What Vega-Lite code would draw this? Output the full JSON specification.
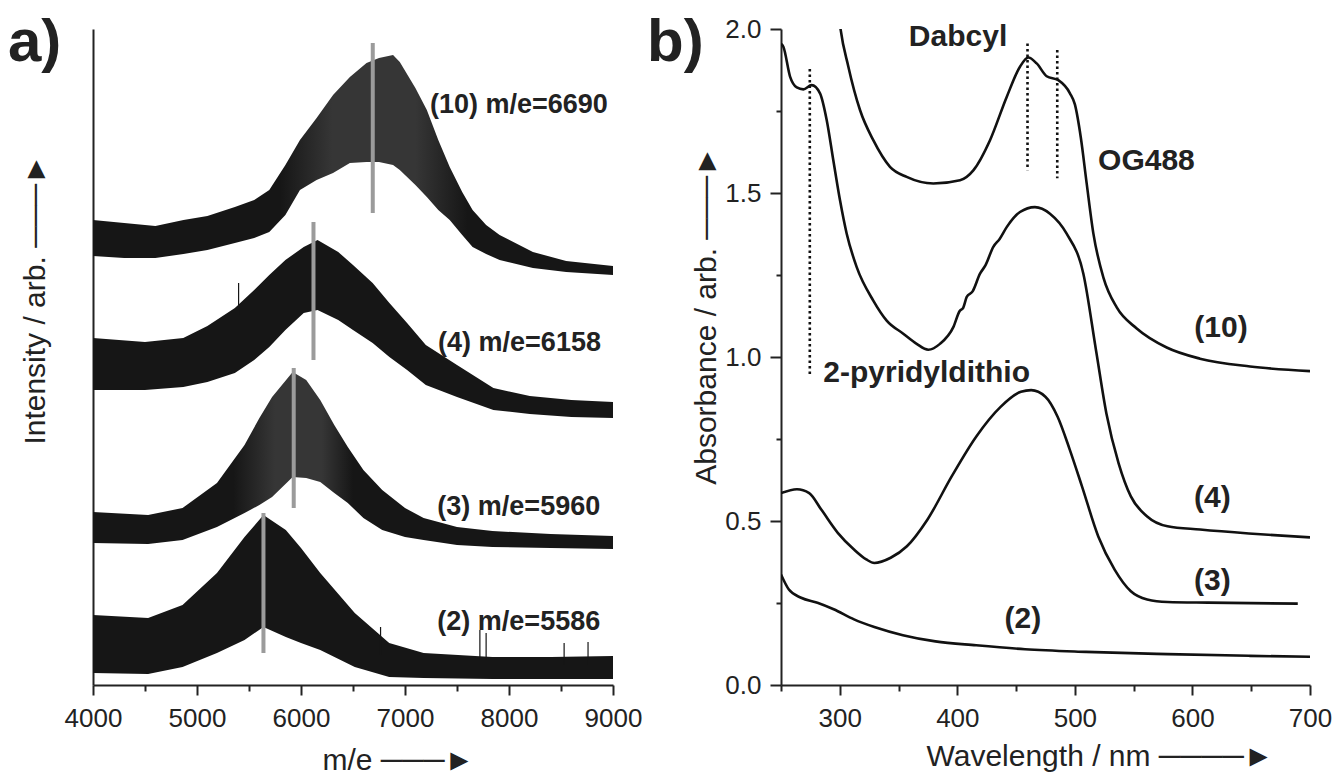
{
  "$schema": "https://vega.github.io/schema/vega-lite/v6.json",
  "background": "white",
  "padding": {"left": 8, "top": 13, "right": 0, "bottom": 0},
  "bounds": "flush",
  "spacing": 168,
  "config": {
    "view": {"stroke": null},
    "font": "Liberation Sans",
    "axis": {
      "grid": false,
      "domainColor": "#222",
      "domainWidth": 2,
      "tickColor": "#222",
      "tickWidth": 2,
      "labelColor": "#222",
      "labelFont": "Liberation Sans",
      "labelFontSize": 26,
      "labelFlush": false,
      "labelOverlap": false,
      "titleFont": "Liberation Sans",
      "titleFontSize": 30,
      "titleFontWeight": "normal",
      "titleColor": "#222"
    }
  },
  "datasets": {
    "ms": [
      {"trace": "10", "mz": 4000, "intensity": 465, "intensity2": 429},
      {"trace": "10", "mz": 4300, "intensity": 462, "intensity2": 427},
      {"trace": "10", "mz": 4600, "intensity": 459, "intensity2": 427},
      {"trace": "10", "mz": 4870, "intensity": 465, "intensity2": 431},
      {"trace": "10", "mz": 5100, "intensity": 469, "intensity2": 435},
      {"trace": "10", "mz": 5364, "intensity": 478, "intensity2": 442},
      {"trace": "10", "mz": 5550, "intensity": 485, "intensity2": 447},
      {"trace": "10", "mz": 5695, "intensity": 495, "intensity2": 453},
      {"trace": "10", "mz": 5850, "intensity": 520, "intensity2": 470},
      {"trace": "10", "mz": 5990, "intensity": 545, "intensity2": 495},
      {"trace": "10", "mz": 6150, "intensity": 567, "intensity2": 505},
      {"trace": "10", "mz": 6308, "intensity": 590, "intensity2": 512},
      {"trace": "10", "mz": 6470, "intensity": 608, "intensity2": 522},
      {"trace": "10", "mz": 6630, "intensity": 622, "intensity2": 523},
      {"trace": "10", "mz": 6750, "intensity": 627, "intensity2": 523},
      {"trace": "10", "mz": 6885, "intensity": 630, "intensity2": 520},
      {"trace": "10", "mz": 6950, "intensity": 623, "intensity2": 515},
      {"trace": "10", "mz": 7100, "intensity": 597, "intensity2": 500},
      {"trace": "10", "mz": 7210, "intensity": 575, "intensity2": 488},
      {"trace": "10", "mz": 7320, "intensity": 545, "intensity2": 475},
      {"trace": "10", "mz": 7430, "intensity": 518, "intensity2": 465},
      {"trace": "10", "mz": 7550, "intensity": 493, "intensity2": 450},
      {"trace": "10", "mz": 7650, "intensity": 475, "intensity2": 438},
      {"trace": "10", "mz": 7780, "intensity": 460, "intensity2": 431},
      {"trace": "10", "mz": 7910, "intensity": 450, "intensity2": 425},
      {"trace": "10", "mz": 8230, "intensity": 433, "intensity2": 417},
      {"trace": "10", "mz": 8550, "intensity": 424, "intensity2": 413},
      {"trace": "10", "mz": 9000, "intensity": 419, "intensity2": 410},
      {"trace": "4", "mz": 4000, "intensity": 347, "intensity2": 295},
      {"trace": "4", "mz": 4250, "intensity": 345, "intensity2": 295},
      {"trace": "4", "mz": 4500, "intensity": 343, "intensity2": 295},
      {"trace": "4", "mz": 4868, "intensity": 347, "intensity2": 298},
      {"trace": "4", "mz": 5100, "intensity": 359, "intensity2": 303},
      {"trace": "4", "mz": 5364, "intensity": 377, "intensity2": 312},
      {"trace": "4", "mz": 5550, "intensity": 395, "intensity2": 325},
      {"trace": "4", "mz": 5695, "intensity": 410, "intensity2": 338},
      {"trace": "4", "mz": 5850, "intensity": 425, "intensity2": 355},
      {"trace": "4", "mz": 6026, "intensity": 438, "intensity2": 372},
      {"trace": "4", "mz": 6159, "intensity": 445, "intensity2": 375},
      {"trace": "4", "mz": 6358, "intensity": 433, "intensity2": 365},
      {"trace": "4", "mz": 6500, "intensity": 420, "intensity2": 355},
      {"trace": "4", "mz": 6689, "intensity": 402, "intensity2": 342},
      {"trace": "4", "mz": 6850, "intensity": 382, "intensity2": 328},
      {"trace": "4", "mz": 7020, "intensity": 362, "intensity2": 315},
      {"trace": "4", "mz": 7200, "intensity": 340, "intensity2": 300},
      {"trace": "4", "mz": 7500, "intensity": 320, "intensity2": 288},
      {"trace": "4", "mz": 7850, "intensity": 297, "intensity2": 275},
      {"trace": "4", "mz": 8200, "intensity": 289, "intensity2": 271},
      {"trace": "4", "mz": 8600, "intensity": 285, "intensity2": 268},
      {"trace": "4", "mz": 9000, "intensity": 283, "intensity2": 267},
      {"trace": "3", "mz": 4000, "intensity": 173, "intensity2": 142},
      {"trace": "3", "mz": 4530, "intensity": 170, "intensity2": 141},
      {"trace": "3", "mz": 4861, "intensity": 177, "intensity2": 145},
      {"trace": "3", "mz": 5192, "intensity": 202, "intensity2": 158},
      {"trace": "3", "mz": 5457, "intensity": 240, "intensity2": 172},
      {"trace": "3", "mz": 5600, "intensity": 267, "intensity2": 180},
      {"trace": "3", "mz": 5722, "intensity": 288, "intensity2": 188},
      {"trace": "3", "mz": 5920, "intensity": 313, "intensity2": 208},
      {"trace": "3", "mz": 6050, "intensity": 305, "intensity2": 207},
      {"trace": "3", "mz": 6185, "intensity": 285, "intensity2": 203},
      {"trace": "3", "mz": 6320, "intensity": 260, "intensity2": 192},
      {"trace": "3", "mz": 6450, "intensity": 238, "intensity2": 182},
      {"trace": "3", "mz": 6600, "intensity": 215, "intensity2": 167},
      {"trace": "3", "mz": 6781, "intensity": 195, "intensity2": 155},
      {"trace": "3", "mz": 7000, "intensity": 177, "intensity2": 148},
      {"trace": "3", "mz": 7179, "intensity": 167, "intensity2": 145},
      {"trace": "3", "mz": 7500, "intensity": 158, "intensity2": 140},
      {"trace": "3", "mz": 7841, "intensity": 154, "intensity2": 138},
      {"trace": "3", "mz": 8400, "intensity": 151, "intensity2": 137},
      {"trace": "3", "mz": 9000, "intensity": 149, "intensity2": 136},
      {"trace": "2", "mz": 4000, "intensity": 70, "intensity2": 12},
      {"trace": "2", "mz": 4530, "intensity": 67, "intensity2": 11},
      {"trace": "2", "mz": 4861, "intensity": 80, "intensity2": 18},
      {"trace": "2", "mz": 5192, "intensity": 112, "intensity2": 32},
      {"trace": "2", "mz": 5457, "intensity": 148, "intensity2": 45},
      {"trace": "2", "mz": 5639, "intensity": 170, "intensity2": 58},
      {"trace": "2", "mz": 5854, "intensity": 155, "intensity2": 48},
      {"trace": "2", "mz": 6000, "intensity": 137, "intensity2": 42},
      {"trace": "2", "mz": 6185, "intensity": 112, "intensity2": 35},
      {"trace": "2", "mz": 6517, "intensity": 72, "intensity2": 18},
      {"trace": "2", "mz": 6848, "intensity": 42, "intensity2": 8},
      {"trace": "2", "mz": 7179, "intensity": 32, "intensity2": 7},
      {"trace": "2", "mz": 7841, "intensity": 28, "intensity2": 6},
      {"trace": "2", "mz": 8400, "intensity": 28, "intensity2": 6},
      {"trace": "2", "mz": 9000, "intensity": 29, "intensity2": 6}
    ],
    "msSpikes": [
      {"mz": 5400, "intensity": 402, "intensity2": 370},
      {"mz": 6765, "intensity": 58, "intensity2": 30},
      {"mz": 7720, "intensity": 55, "intensity2": 25},
      {"mz": 7780, "intensity": 52, "intensity2": 25},
      {"mz": 8530, "intensity": 42, "intensity2": 20},
      {"mz": 8760, "intensity": 43, "intensity2": 20}
    ],
    "msMarkers": [
      {"mz": 6690, "intensity": 642, "intensity2": 472},
      {"mz": 6120, "intensity": 463, "intensity2": 325},
      {"mz": 5930, "intensity": 317, "intensity2": 177},
      {"mz": 5639, "intensity": 172, "intensity2": 32}
    ],
    "msLabels": [
      {"label": "(10) m/e=6690", "mz": 7240, "intensity": 580},
      {"label": "(4) m/e=6158", "mz": 7318, "intensity": 342},
      {"label": "(3) m/e=5960", "mz": 7311, "intensity": 178},
      {"label": "(2) m/e=5586", "mz": 7311, "intensity": 63}
    ],
    "uv": [
      {"trace": "10", "wavelength": 297, "absorbance": 2.12},
      {"trace": "10", "wavelength": 300.2, "absorbance": 2.012},
      {"trace": "10", "wavelength": 307.3, "absorbance": 1.885},
      {"trace": "10", "wavelength": 317.2, "absorbance": 1.753},
      {"trace": "10", "wavelength": 328.5, "absorbance": 1.661},
      {"trace": "10", "wavelength": 342.7, "absorbance": 1.58},
      {"trace": "10", "wavelength": 356.9, "absorbance": 1.549},
      {"trace": "10", "wavelength": 379.6, "absorbance": 1.529},
      {"trace": "10", "wavelength": 402.3, "absorbance": 1.539},
      {"trace": "10", "wavelength": 413.6, "absorbance": 1.569},
      {"trace": "10", "wavelength": 427.8, "absorbance": 1.661},
      {"trace": "10", "wavelength": 442, "absorbance": 1.793},
      {"trace": "10", "wavelength": 453.3, "absorbance": 1.885},
      {"trace": "10", "wavelength": 460.4, "absorbance": 1.913},
      {"trace": "10", "wavelength": 467.5, "absorbance": 1.895},
      {"trace": "10", "wavelength": 476, "absorbance": 1.856},
      {"trace": "10", "wavelength": 485.9, "absorbance": 1.844},
      {"trace": "10", "wavelength": 495.8, "absorbance": 1.804},
      {"trace": "10", "wavelength": 500, "absorbance": 1.77},
      {"trace": "10", "wavelength": 505, "absorbance": 1.67},
      {"trace": "10", "wavelength": 510, "absorbance": 1.53},
      {"trace": "10", "wavelength": 515.7, "absorbance": 1.377},
      {"trace": "10", "wavelength": 524.2, "absorbance": 1.243},
      {"trace": "10", "wavelength": 535.6, "absorbance": 1.151},
      {"trace": "10", "wavelength": 552.6, "absorbance": 1.087},
      {"trace": "10", "wavelength": 578.1, "absorbance": 1.029},
      {"trace": "10", "wavelength": 606.4, "absorbance": 0.995},
      {"trace": "10", "wavelength": 649, "absorbance": 0.971},
      {"trace": "10", "wavelength": 700, "absorbance": 0.957},
      {"trace": "4", "wavelength": 250, "absorbance": 1.955},
      {"trace": "4", "wavelength": 252, "absorbance": 1.946},
      {"trace": "4", "wavelength": 257.7, "absorbance": 1.855},
      {"trace": "4", "wavelength": 263.4, "absorbance": 1.822},
      {"trace": "4", "wavelength": 269, "absorbance": 1.816},
      {"trace": "4", "wavelength": 276.1, "absorbance": 1.829},
      {"trace": "4", "wavelength": 283.2, "absorbance": 1.804},
      {"trace": "4", "wavelength": 288.9, "absorbance": 1.722},
      {"trace": "4", "wavelength": 294.5, "absorbance": 1.6},
      {"trace": "4", "wavelength": 300.2, "absorbance": 1.478},
      {"trace": "4", "wavelength": 305.9, "absorbance": 1.376},
      {"trace": "4", "wavelength": 314.4, "absorbance": 1.274},
      {"trace": "4", "wavelength": 328.5, "absorbance": 1.172},
      {"trace": "4", "wavelength": 339.9, "absorbance": 1.111},
      {"trace": "4", "wavelength": 354, "absorbance": 1.071},
      {"trace": "4", "wavelength": 365.4, "absorbance": 1.04},
      {"trace": "4", "wavelength": 375.3, "absorbance": 1.022},
      {"trace": "4", "wavelength": 385.2, "absorbance": 1.04},
      {"trace": "4", "wavelength": 396.6, "absorbance": 1.091},
      {"trace": "4", "wavelength": 402, "absorbance": 1.14},
      {"trace": "4", "wavelength": 405, "absorbance": 1.15},
      {"trace": "4", "wavelength": 408, "absorbance": 1.183},
      {"trace": "4", "wavelength": 413, "absorbance": 1.2},
      {"trace": "4", "wavelength": 419.3, "absorbance": 1.254},
      {"trace": "4", "wavelength": 424, "absorbance": 1.28},
      {"trace": "4", "wavelength": 430.6, "absorbance": 1.336},
      {"trace": "4", "wavelength": 436, "absorbance": 1.36},
      {"trace": "4", "wavelength": 442, "absorbance": 1.396},
      {"trace": "4", "wavelength": 453.3, "absorbance": 1.442},
      {"trace": "4", "wavelength": 466, "absorbance": 1.457},
      {"trace": "4", "wavelength": 478.8, "absorbance": 1.437},
      {"trace": "4", "wavelength": 493, "absorbance": 1.376},
      {"trace": "4", "wavelength": 507.2, "absorbance": 1.254},
      {"trace": "4", "wavelength": 518, "absorbance": 1.02},
      {"trace": "4", "wavelength": 526.8, "absorbance": 0.828},
      {"trace": "4", "wavelength": 537.2, "absorbance": 0.676},
      {"trace": "4", "wavelength": 547.6, "absorbance": 0.575},
      {"trace": "4", "wavelength": 561.5, "absorbance": 0.514},
      {"trace": "4", "wavelength": 578.8, "absorbance": 0.484},
      {"trace": "4", "wavelength": 606.5, "absorbance": 0.474},
      {"trace": "4", "wavelength": 648, "absorbance": 0.462},
      {"trace": "4", "wavelength": 700, "absorbance": 0.45},
      {"trace": "3", "wavelength": 250, "absorbance": 0.585},
      {"trace": "3", "wavelength": 263.6, "absorbance": 0.597},
      {"trace": "3", "wavelength": 274, "absorbance": 0.585},
      {"trace": "3", "wavelength": 284.4, "absorbance": 0.534},
      {"trace": "3", "wavelength": 298.3, "absorbance": 0.464},
      {"trace": "3", "wavelength": 312.1, "absorbance": 0.413},
      {"trace": "3", "wavelength": 322.5, "absorbance": 0.383},
      {"trace": "3", "wavelength": 329.4, "absorbance": 0.372},
      {"trace": "3", "wavelength": 343.3, "absorbance": 0.388},
      {"trace": "3", "wavelength": 357.1, "absorbance": 0.423},
      {"trace": "3", "wavelength": 374.5, "absorbance": 0.504},
      {"trace": "3", "wavelength": 395.2, "absorbance": 0.636},
      {"trace": "3", "wavelength": 416, "absorbance": 0.757},
      {"trace": "3", "wavelength": 436.8, "absorbance": 0.848},
      {"trace": "3", "wavelength": 454.1, "absorbance": 0.894},
      {"trace": "3", "wavelength": 462.8, "absorbance": 0.899},
      {"trace": "3", "wavelength": 474.9, "absorbance": 0.879},
      {"trace": "3", "wavelength": 485.3, "absorbance": 0.818},
      {"trace": "3", "wavelength": 495.7, "absorbance": 0.717},
      {"trace": "3", "wavelength": 506.1, "absorbance": 0.605},
      {"trace": "3", "wavelength": 519.9, "absorbance": 0.453},
      {"trace": "3", "wavelength": 533.8, "absorbance": 0.352},
      {"trace": "3", "wavelength": 547.6, "absorbance": 0.286},
      {"trace": "3", "wavelength": 561.5, "absorbance": 0.261},
      {"trace": "3", "wavelength": 578.8, "absorbance": 0.253},
      {"trace": "3", "wavelength": 613.4, "absorbance": 0.251},
      {"trace": "3", "wavelength": 689.6, "absorbance": 0.248},
      {"trace": "2", "wavelength": 250, "absorbance": 0.337},
      {"trace": "2", "wavelength": 256.7, "absorbance": 0.291},
      {"trace": "2", "wavelength": 267.1, "absorbance": 0.266},
      {"trace": "2", "wavelength": 281, "absorbance": 0.251},
      {"trace": "2", "wavelength": 294.8, "absorbance": 0.231},
      {"trace": "2", "wavelength": 312.1, "absorbance": 0.2},
      {"trace": "2", "wavelength": 329.4, "absorbance": 0.177},
      {"trace": "2", "wavelength": 353.7, "absorbance": 0.152},
      {"trace": "2", "wavelength": 381.4, "absorbance": 0.133},
      {"trace": "2", "wavelength": 416, "absorbance": 0.121},
      {"trace": "2", "wavelength": 457.6, "absorbance": 0.109},
      {"trace": "2", "wavelength": 509.5, "absorbance": 0.101},
      {"trace": "2", "wavelength": 578.8, "absorbance": 0.094},
      {"trace": "2", "wavelength": 648, "absorbance": 0.089},
      {"trace": "2", "wavelength": 700, "absorbance": 0.086}
    ],
    "uvMarkers": [
      {"wavelength": 274.5, "absorbance": 1.878, "absorbance2": 0.944},
      {"wavelength": 459.7, "absorbance": 1.956, "absorbance2": 1.569},
      {"wavelength": 485, "absorbance": 1.936, "absorbance2": 1.545}
    ],
    "uvLabels": [
      {"label": "Dabcyl", "wavelength": 400.6, "absorbance": 1.976, "align": "center"},
      {"label": "OG488", "wavelength": 519.7, "absorbance": 1.597, "align": "left"},
      {"label": "(10)", "wavelength": 624.3, "absorbance": 1.087, "align": "center"},
      {"label": "2-pyridyldithio", "wavelength": 286, "absorbance": 0.95, "align": "left"},
      {"label": "(4)", "wavelength": 617, "absorbance": 0.571, "align": "center"},
      {"label": "(3)", "wavelength": 617, "absorbance": 0.316, "align": "center"},
      {"label": "(2)", "wavelength": 455.7, "absorbance": 0.2, "align": "center"}
    ]
  },
  "hconcat": [
    {
      "width": 520,
      "height": 656,
      "title": {"text": "a)", "anchor": "start", "frame": "group", "fontSize": 60, "fontWeight": "bold", "font": "Liberation Sans", "color": "#222", "dx": -85, "dy": 45, "offset": 0},
      "resolve": {"axis": {"x": "independent"}},
      "layer": [
        {
          "data": {"name": "ms"},
          "transform": [{"filter": "datum.trace === '4' || datum.trace === '2'"}],
          "mark": {"type": "area", "color": "#161616", "clip": true},
          "encoding": {
            "x": {
              "field": "mz", "type": "quantitative",
              "scale": {"domain": [4000, 9000], "nice": false, "zero": false},
              "axis": {
                "values": [4000, 5000, 6000, 7000, 8000, 9000],
                "format": "d",
                "tickSize": 10,
                "labelPadding": 10,
                "title": "m/e ───►",
                "titleAlign": "left",
                "titleAnchor": "start",
                "titleX": 229,
                "titleY": 84,
                "titleBaseline": "alphabetic"
              }
            },
            "y": {
              "field": "intensity", "type": "quantitative",
              "scale": {"domain": [0, 656], "nice": false, "zero": false},
              "axis": {"labels": false, "ticks": false, "title": "Intensity / arb. ───►", "titlePadding": 43, "titleY": 270}
            },
            "y2": {"field": "intensity2"},
            "detail": {"field": "trace"}
          }
        },
        {
          "data": {"name": "ms"},
          "transform": [{"filter": "datum.trace === '10'"}],
          "mark": {
            "type": "area", "clip": true,
            "color": {"gradient": "linear", "x1": 0, "x2": 1, "y1": 0, "y2": 0,
              "stops": [
                {"offset": 0, "color": "#161616"},
                {"offset": 0.36, "color": "#161616"},
                {"offset": 0.46, "color": "#363636"},
                {"offset": 0.62, "color": "#363636"},
                {"offset": 0.72, "color": "#161616"},
                {"offset": 1, "color": "#161616"}
              ]}
          },
          "encoding": {
            "x": {"field": "mz", "type": "quantitative", "axis": null},
            "y": {"field": "intensity", "type": "quantitative"},
            "y2": {"field": "intensity2"}
          }
        },
        {
          "data": {"name": "ms"},
          "transform": [{"filter": "datum.trace === '3'"}],
          "mark": {
            "type": "area", "clip": true,
            "color": {"gradient": "linear", "x1": 0, "x2": 1, "y1": 0, "y2": 0,
              "stops": [
                {"offset": 0, "color": "#161616"},
                {"offset": 0.27, "color": "#161616"},
                {"offset": 0.35, "color": "#363636"},
                {"offset": 0.44, "color": "#363636"},
                {"offset": 0.5, "color": "#161616"},
                {"offset": 1, "color": "#161616"}
              ]}
          },
          "encoding": {
            "x": {"field": "mz", "type": "quantitative", "axis": null},
            "y": {"field": "intensity", "type": "quantitative"},
            "y2": {"field": "intensity2"}
          }
        },
        {
          "data": {"name": "msSpikes"},
          "mark": {"type": "rule", "color": "#161616", "strokeWidth": 1.2},
          "encoding": {
            "x": {
              "field": "mz", "type": "quantitative",
              "axis": {"orient": "bottom", "values": [4500, 5500, 6500, 7500, 8500], "tickSize": 6, "labels": false, "domain": false, "title": null}
            },
            "y": {"field": "intensity", "type": "quantitative"},
            "y2": {"field": "intensity2"}
          }
        },
        {
          "data": {"name": "msMarkers"},
          "mark": {"type": "rule", "color": "#9b9b9b", "strokeWidth": 4},
          "encoding": {
            "x": {"field": "mz", "type": "quantitative", "axis": null},
            "y": {"field": "intensity", "type": "quantitative"},
            "y2": {"field": "intensity2"}
          }
        },
        {
          "data": {"name": "msLabels"},
          "mark": {"type": "text", "align": "left", "baseline": "middle", "fontSize": 27, "fontWeight": "bold", "color": "#222"},
          "encoding": {
            "x": {"field": "mz", "type": "quantitative", "axis": null},
            "y": {"field": "intensity", "type": "quantitative"},
            "text": {"field": "label"}
          }
        }
      ]
    },
    {
      "width": 529,
      "height": 656,
      "title": {"text": "b)", "anchor": "start", "frame": "group", "fontSize": 60, "fontWeight": "bold", "font": "Liberation Sans", "color": "#222", "dx": -134, "dy": 58, "offset": 0},
      "resolve": {"axis": {"x": "independent", "y": "independent"}},
      "layer": [
        {
          "data": {"name": "uv"},
          "mark": {"type": "line", "color": "#111", "strokeWidth": 2.6, "clip": true, "interpolate": "monotone"},
          "encoding": {
            "x": {
              "field": "wavelength", "type": "quantitative",
              "scale": {"domain": [250, 700], "nice": false, "zero": false},
              "axis": {
                "values": [300, 400, 500, 600, 700],
                "format": "d",
                "tickSize": 10,
                "labelPadding": 10,
                "title": "Wavelength / nm ────►",
                "titleAlign": "left",
                "titleAnchor": "start",
                "titleX": 145,
                "titleY": 80,
                "titleBaseline": "alphabetic"
              }
            },
            "y": {
              "field": "absorbance", "type": "quantitative",
              "scale": {"domain": [0, 2], "nice": false, "zero": false},
              "axis": {
                "values": [0, 0.5, 1, 1.5, 2],
                "format": ".1f",
                "tickSize": 11,
                "labelPadding": 9,
                "title": "Absorbance / arb. ───►",
                "titlePadding": 3,
                "titleY": 286
              }
            },
            "detail": {"field": "trace"}
          }
        },
        {
          "data": {"name": "uvMarkers"},
          "mark": {"type": "rule", "color": "#111", "strokeWidth": 2.6, "strokeDash": [2.5, 3]},
          "encoding": {
            "x": {
              "field": "wavelength", "type": "quantitative",
              "axis": {"orient": "bottom", "values": [250, 350, 450, 550, 650], "tickSize": 6, "labels": false, "domain": false, "title": null}
            },
            "y": {
              "field": "absorbance", "type": "quantitative",
              "axis": {"orient": "left", "values": [0.25, 0.75, 1.25, 1.75], "tickSize": 5, "labels": false, "domain": false, "title": null}
            },
            "y2": {"field": "absorbance2"}
          }
        },
        {
          "data": {"name": "uvLabels"},
          "transform": [{"filter": "datum.align === 'center'"}],
          "mark": {"type": "text", "align": "center", "baseline": "middle", "fontSize": 30, "fontWeight": "bold", "color": "#222"},
          "encoding": {
            "x": {"field": "wavelength", "type": "quantitative", "axis": null},
            "y": {"field": "absorbance", "type": "quantitative", "axis": null},
            "text": {"field": "label"}
          }
        },
        {
          "data": {"name": "uvLabels"},
          "transform": [{"filter": "datum.align === 'left'"}],
          "mark": {"type": "text", "align": "left", "baseline": "middle", "fontSize": 30, "fontWeight": "bold", "color": "#222"},
          "encoding": {
            "x": {"field": "wavelength", "type": "quantitative", "axis": null},
            "y": {"field": "absorbance", "type": "quantitative", "axis": null},
            "text": {"field": "label"}
          }
        }
      ]
    }
  ]
}
